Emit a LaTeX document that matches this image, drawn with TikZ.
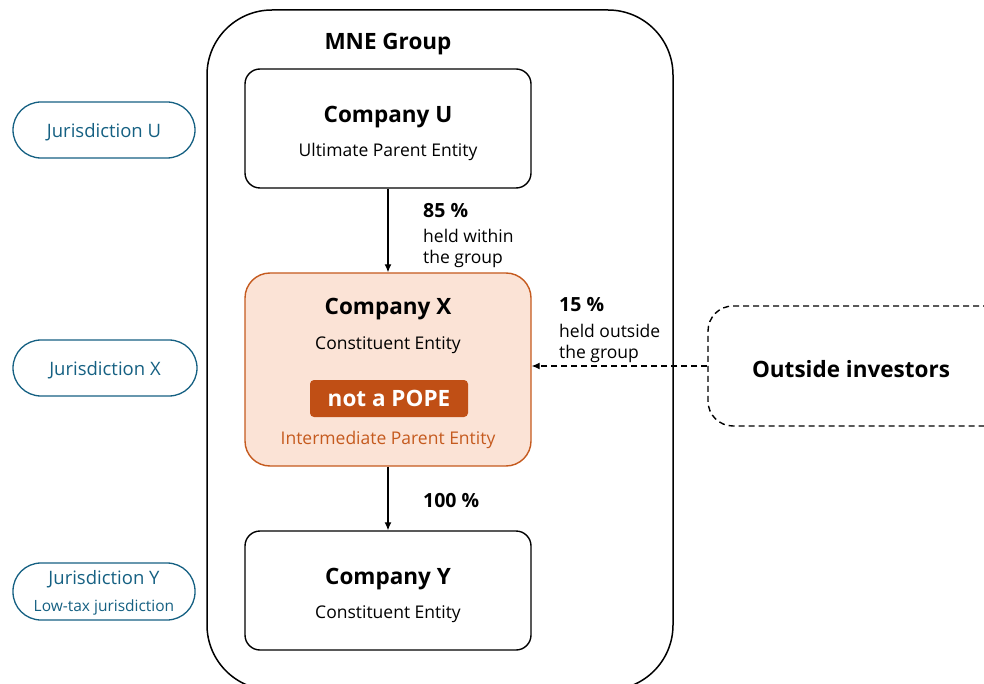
\documentclass[tikz,border=0pt]{standalone}
\usepackage{fontspec}
\setmainfont{Open Sans}
\usetikzlibrary{arrows.meta}
\definecolor{jblue}{HTML}{156082}
\definecolor{xfill}{HTML}{FBE3D6}
\definecolor{xline}{HTML}{C55A1E}
\definecolor{popefill}{HTML}{C04F15}
\tikzset{
  ent/.style={draw=black, line width=1.4pt, rounded corners=15pt, minimum width=286pt, minimum height=119pt, inner sep=0pt},
  pill/.style={draw=jblue, line width=1.3pt, rounded corners=28pt, minimum width=182pt, minimum height=56pt, inner sep=0pt},
  title/.style={font=\fontsize{22.5}{26}\selectfont\bfseries, inner sep=0pt},
  sub/.style={font=\fontsize{17.5}{20}\selectfont, inner sep=0pt},
  lab/.style={font=\fontsize{17.5}{20}\selectfont, inner sep=0pt, anchor=west},
  labb/.style={font=\fontsize{19.5}{22}\selectfont\bfseries, inner sep=0pt, anchor=west},
  jtxt/.style={font=\fontsize{18.5}{21}\selectfont, text=jblue, inner sep=0pt},
  arr/.style={line width=1.2pt, -{Latex[length=8pt,width=7pt]}}
}
\begin{document}
\begin{tikzpicture}[x=1pt,y=-1pt]
\useasboundingbox (0,0) rectangle (984,684);
\clip (0,0) rectangle (984,684);
% outer group
\node[draw=black, line width=1.5pt, rounded corners=65pt, minimum width=466pt, minimum height=680pt, inner sep=0pt] (grp) at (440,350) {};
\node[title] (grpt) at (388,44) {MNE Group};
% companies
\node[ent] (U) at (388,128.5) {};
\node[title] (Ut) at (388,117) {Company U};
\node[sub] (Us) at (388,152) {Ultimate Parent Entity};
\node[ent, draw=xline, fill=xfill, rounded corners=25pt, minimum height=193pt] (X) at (388,369.5) {};
\node[title] (Xt) at (388,309) {Company X};
\node[sub] (Xs) at (388,345) {Constituent Entity};
\node[fill=popefill, rounded corners=4pt, minimum width=158pt, minimum height=37pt, inner sep=0pt, text=white, font=\fontsize{22.5}{26}\selectfont\bfseries] (pope) at (389,398.5) {not a POPE};
\node[sub, text=xline] (Xi) at (388,440) {Intermediate Parent Entity};
\node[ent] (Y) at (388,590.5) {};
\node[title] (Yt) at (388,579) {Company Y};
\node[sub] (Ys) at (388,614) {Constituent Entity};
% outside investors
\node[draw=black, line width=1.4pt, dash pattern=on 6pt off 4pt, rounded corners=25pt, minimum width=306pt, minimum height=120pt, inner sep=0pt] (OI) at (861,366) {};
\node[title] (OIt) at (851,369) {Outside investors};
% arrows
\draw[arr] (U.south) -- (X.north);
\draw[arr] (X.south) -- (Y.north);
\draw[arr, dash pattern=on 6pt off 4pt] (OI.west) -- (OI.west -| X.east);
% labels
\node[labb] (l85) at (423,211) {85 \%};
\node[lab] (l85a) at (423,236) {held within};
\node[lab] (l85b) at (423,259) {the group};
\node[labb] (l15) at (559,305) {15 \%};
\node[lab] (l15a) at (559,331) {held outside};
\node[lab] (l15b) at (559,354) {the group};
\node[labb] (l100) at (423,501) {100 \%};
% jurisdictions
\node[pill] (JU) at (104,130) {};
\node[jtxt] (JUt) at (104,132) {Jurisdiction U};
\node[pill, minimum width=184pt] (JX) at (105,368) {};
\node[jtxt] (JXt) at (105,370) {Jurisdiction X};
\node[pill, minimum height=57pt] (JY) at (104,591.5) {};
\node[jtxt] (JYt) at (104,579) {Jurisdiction Y};
\node[jtxt, font=\fontsize{15.5}{18}\selectfont] (JYs) at (104,607) {Low-tax jurisdiction};
\end{tikzpicture}
\end{document}
